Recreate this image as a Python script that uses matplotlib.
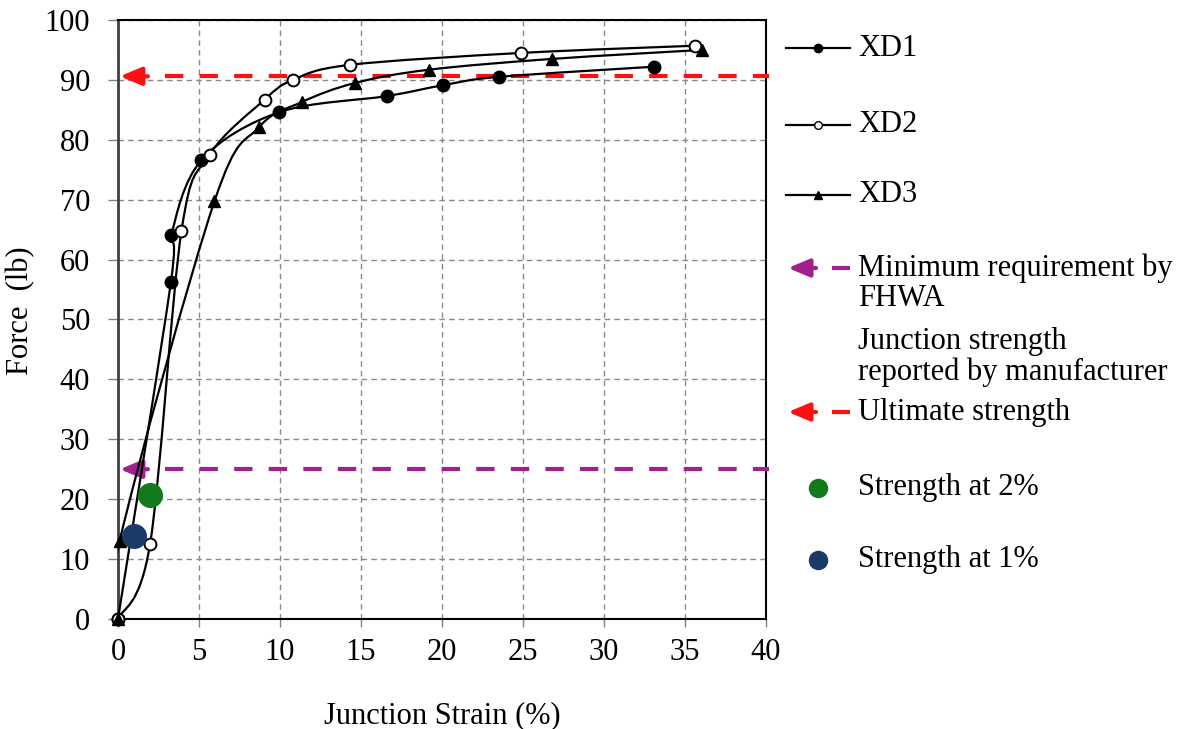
# -*- coding: utf-8 -*-

""" Force vs junction strain for XD1, XD2, XD3 with strength references """

import matplotlib
matplotlib.use('Agg')
import matplotlib.pyplot as plt
from matplotlib.path import Path
from matplotlib.patches import PathPatch, FancyArrowPatch
from matplotlib.lines import Line2D
import numpy as np

plt.rcParams['font.family'] = ['Liberation Serif', 'DejaVu Serif']

# => DATA
xd1_strain = [0, 3.27, 3.3, 5.15, 9.95, 16.6, 20.05, 23.5, 33.1]
xd1_force = [0, 56.3, 64.1, 76.6, 84.6, 87.3, 89.1, 90.5, 92.2]

xd2_strain = [0, 1.98, 3.92, 5.65, 9.05, 10.8, 14.3, 24.9, 35.6]
xd2_force = [0, 12.5, 64.8, 77.5, 86.7, 90.0, 92.5, 94.5, 95.7]

xd3_strain = [0, 0.1, 5.95, 8.7, 11.35, 14.65, 19.2, 26.8, 36.05]
xd3_force = [0, 13.0, 69.7, 82.1, 86.3, 89.5, 91.7, 93.5, 95.0]

fhwa_min = 25.0
ultimate = 90.6
strength_2pct = (2.0, 20.7)
strength_1pct = (1.0, 13.8)

PURPLE = '#a0208e'
RED = '#ff1010'
GREEN = '#107a1c'
NAVY = '#1c3a66'
FS = 22
ARROW = '-|>,head_length=1.0,head_width=0.42'


def smooth_path(xs, ys):
    # => EXCEL-STYLE SMOOTH LINE (BEZIER THROUGH THE POINTS)
    pts = np.column_stack([xs, ys]).astype(float)
    n = len(pts)
    verts = [pts[0]]
    codes = [Path.MOVETO]
    for i in range(n - 1):
        p0 = pts[i - 1] if i > 0 else pts[i]
        p1, p2 = pts[i], pts[i + 1]
        p3 = pts[i + 2] if i + 2 < n else pts[i + 1]
        c1 = p1 + (p2 - p0) / 6.0
        c2 = p2 - (p3 - p1) / 6.0
        verts += [c1, c2, p2]
        codes += [Path.CURVE4] * 3
    return Path(verts, codes)


fig = plt.figure(figsize=(11.88, 7.29), dpi=100)
ax = fig.add_axes([0.0993, 0.1509, 0.5455, 0.8217])

ax.set_xlim(0, 40)
ax.set_ylim(0, 100)
ax.set_xticks(np.arange(0, 41, 5))
ax.set_yticks(np.arange(0, 101, 10))
ax.grid(True, color='#8a8a8a', linestyle=(0, (4, 3)), linewidth=1.0)
ax.set_axisbelow(True)

for side in ['top', 'right', 'bottom']:
    ax.spines[side].set_linewidth(1.5)
    ax.spines[side].set_color('black')
ax.spines['left'].set_linewidth(2.0)
ax.spines['left'].set_color('#404040')

ax.tick_params(axis='y', direction='out', length=7, width=1, color='#808080',
               labelsize=FS, pad=13)
ax.tick_params(axis='x', direction='out', length=6, width=1, color='#808080',
               labelsize=FS, pad=8)

ax.set_xlabel('Junction Strain (%)', fontsize=FS, labelpad=24)
ax.set_ylabel('Force  (lb)', fontsize=FS, labelpad=2)
ax.yaxis.set_label_coords(-0.128, 0.515)

# => REFERENCE LINES WITH ARROWHEADS
for yv, col in [(fhwa_min, PURPLE), (ultimate, RED)]:
    ax.plot([2.9, 40.2], [yv, yv], color=col, lw=3.0, dashes=(4.4, 3.9),
            solid_capstyle='butt', clip_on=False, zorder=4)
    ax.annotate('', xy=(0.12, yv), xytext=(1.85, yv),
                arrowprops=dict(arrowstyle=ARROW, mutation_scale=13,
                                color=col, lw=3.0, shrinkA=0, shrinkB=0),
                zorder=4)

# => CURVES
series = [
    (xd1_strain, xd1_force, dict(marker='o', mfc='black', mec='black', ms=9)),
    (xd2_strain, xd2_force, dict(marker='o', mfc='white', mec='black', ms=8.5, mew=1.4)),
    (xd3_strain, xd3_force, dict(marker='^', mfc='black', mec='black', ms=9)),
]
for xs, ys, mk in series:
    ax.add_patch(PathPatch(smooth_path(xs, ys), fill=False, edgecolor='black',
                           lw=1.6, zorder=5))
    ax.plot(xs, ys, linestyle='none', zorder=6, clip_on=False, **mk)

ax.plot(*strength_2pct, 'o', color=GREEN, ms=17, zorder=7)
ax.plot(*strength_1pct, 'o', color=NAVY, ms=17, zorder=7)

# => LEGEND (DRAWN BY HAND IN PIXEL COORDS)
W, H = 1188.0, 729.0


def fx(px):
    return px / W


def fy(py):
    return 1 - py / H


x0, xm, x1, xt = 786, 818, 850, 858
for py, mk in [(48, dict(marker='o', mfc='black', mec='black', ms=6)),
               (125, dict(marker='o', mfc='white', mec='black', ms=5.5, mew=1)),
               (195, dict(marker='^', mfc='black', mec='black', ms=6))]:
    fig.add_artist(Line2D([fx(x0), fx(x1)], [fy(py), fy(py)], color='black', lw=1.6))
    fig.add_artist(Line2D([fx(xm)], [fy(py)], linestyle='none', **mk))

for py, col in [(268, PURPLE), (412, RED)]:
    fig.add_artist(Line2D([fx(832), fx(850)], [fy(py), fy(py)], color=col, lw=3.0,
                          solid_capstyle='butt'))
    fig.add_artist(FancyArrowPatch(
        (fx(816), fy(py)), (fx(788), fy(py)), transform=fig.transFigure,
        arrowstyle=ARROW, mutation_scale=13, color=col, lw=3.0,
        shrinkA=0, shrinkB=0))

fig.add_artist(Line2D([fx(818)], [fy(488)], marker='o', color=GREEN, ms=13,
                      linestyle='none'))
fig.add_artist(Line2D([fx(818)], [fy(560)], marker='o', color=NAVY, ms=13,
                      linestyle='none'))

labels = [(48, 'XD1'), (125, 'XD2'), (195, 'XD3'),
          (268, 'Minimum requirement by'), (298, 'FHWA'),
          (341, 'Junction strength'), (372, 'reported by manufacturer'),
          (412, 'Ultimate strength'), (488, 'Strength at 2%'), (560, 'Strength at 1%')]
for py, txt in labels:
    fig.text(fx(xt), fy(py), txt, fontsize=FS, va='center', ha='left')

fig.savefig('out.png', dpi=100)
